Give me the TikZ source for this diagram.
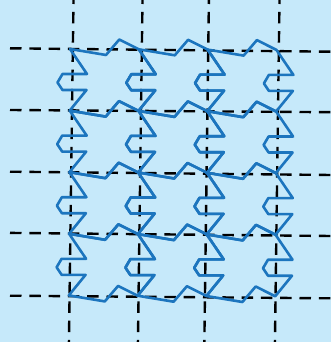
\documentclass[tikz,border=0pt]{standalone}
\usepackage{xcolor}
\definecolor{bgblue}{RGB}{198,233,250}
\definecolor{tileblue}{RGB}{28,117,190}
\begin{document}
\begin{tikzpicture}[x=1pt,y=-1pt,
  gridline/.style={black, line width=2.4pt, dash pattern=on 11.5pt off 7.8pt},
  tile/.style={tileblue, line width=2.6pt, line join=round}]
\fill[bgblue] (0,0) rectangle (331,342);
\useasboundingbox (0,0) rectangle (331,342);
% horizontal dashed lines
\foreach \yl/\yr [count=\k] in {48.3/51.7, 110/112.2, 171.7/175, 232.9/236, 295.7/298.3}
  \draw[gridline] (10,\yl) coordinate (h\k l) -- (331,\yr) coordinate (h\k r);
% vertical dashed lines
\foreach \xt/\xb [count=\k] in {73.6/68.9, 142.6/137.9, 209.0/204.3, 279.6/274.9}
  \draw[gridline] (\xt,-7.5) coordinate (v\k t) -- (\xb,345) coordinate (v\k b);
% tiles
\foreach \i in {0,1,2} {
  \foreach \j in {0,1,2,3} {
    \begin{scope}[shift={({70+68.8*\i-0.3*\j},{49+0.3*\i+61.6*\j})}]
      \draw[tile] (0,0) -- (36,6) -- (49.3,-9.5) -- (68.8,0.3)
        -- (85.8,25.3) -- (61.3,25.3) -- (56.3,33.8) -- (61.3,41.3) -- (85.3,41.3)
        -- (68.5,61.9) -- (49.0,52.1) -- (35.7,67.6) -- (-0.3,61.6)
        -- (16.5,41) -- (-7.5,41) -- (-12.5,33.5) -- (-7.5,25) -- (17,25) -- cycle;
    \end{scope}
  }
}
\end{tikzpicture}
\end{document}
